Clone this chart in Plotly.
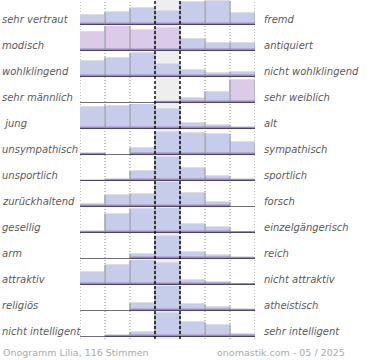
import plotly.graph_objects as go

# ---------------- data ----------------
LEFT_LABELS = ["sehr vertraut", "modisch", "wohlklingend", "sehr männlich", "\u00a0jung",
               "unsympathisch", "unsportlich", "zurückhaltend", "gesellig", "arm",
               "attraktiv", "religiös", "nicht intelligent"]
RIGHT_LABELS = ["fremd", "antiquiert", "nicht wohlklingend", "sehr weiblich", "alt",
                "sympathisch", "sportlich", "forsch", "einzelgängerisch", "reich",
                "nicht attraktiv", "atheistisch", "sehr intelligent"]
SCALE_POINTS = [1, 2, 3, 4, 5, 6, 7]

# relative bar heights per row (0-100, row maximum ~100)
V_VERTRAUT = [40, 51, 67, 56, 93, 96, 49]
V_MODISCH = [77, 100, 84, 93, 49, 33, 33]
V_WOHLKLINGEND = [65, 78, 96, 52, 29, 16, 20]
V_MAENNLICH = [0, 0, 0, 10, 20, 46, 93]
V_JUNG = [90, 94, 100, 81, 26, 17, 10]
V_UNSYMPATHISCH = [9, 0, 29, 93, 88, 84, 51]
V_UNSPORTLICH = [3, 8, 40, 98, 53, 20, 8]
V_ZURUECKHALTEND = [14, 48, 54, 100, 58, 20, 0]
V_GESELLIG = [10, 76, 97, 100, 37, 24, 6]
V_ARM = [0, 0, 20, 93, 28, 17, 8]
V_ATTRAKTIV = [53, 79, 99, 87, 20, 12, 6]
V_RELIGIOES = [0, 0, 31, 100, 27, 18, 10]
V_INTELLIGENT = [0, 7, 20, 96, 59, 50, 11]

ROWS = [V_VERTRAUT, V_MODISCH, V_WOHLKLINGEND, V_MAENNLICH, V_JUNG, V_UNSYMPATHISCH,
        V_UNSPORTLICH, V_ZURUECKHALTEND, V_GESELLIG, V_ARM, V_ATTRAKTIV, V_RELIGIOES,
        V_INTELLIGENT]

TITLE_LEFT = "Onogramm Lilia, 116 Stimmen"
TITLE_RIGHT = "onomastik.com - 05 / 2025"

# ---------------- style ----------------
W, H = 370, 360
ML, MR, MT, MB = 80, 115, 0, 19
PLOT_W = W - ML - MR
PLOT_H = H - MT - MB
ROW_STEP = 26
ROW_H = 25
FIRST_BASE = 25
BLUE = "#c6cdea"
PINK = "#dccbe8"
STRIP1 = "#b5abd9"
STRIP2 = "#9a89c4"
HIGHLIGHT = {(1, 0), (1, 1), (1, 2), (1, 3), (3, 6)}
FONT = "DejaVu Sans"

ncol = len(SCALE_POINTS)
xc = [p - 0.5 for p in SCALE_POINTS]

fig = go.Figure()
layout_axes = {}
annotations = []
shapes = []

for r, vals in enumerate(ROWS):
    yname = "y" if r == 0 else f"y{r+1}"
    ykey = "yaxis" if r == 0 else f"yaxis{r+1}"
    colors = [PINK if (r, c) in HIGHLIGHT else BLUE for c in range(ncol)]
    fig.add_trace(go.Bar(x=xc, y=vals, yaxis=yname, xaxis="x", width=1,
                         marker=dict(color=colors, line=dict(color="#dedee8", width=1)),
                         hoverinfo="skip", showlegend=False))
    fig.add_trace(go.Bar(x=xc, y=[min(v, 11) for v in vals], yaxis=yname, xaxis="x", width=1,
                         marker=dict(color=STRIP1, line=dict(width=0)),
                         hoverinfo="skip", showlegend=False))
    fig.add_trace(go.Bar(x=xc, y=[min(v, 5) for v in vals], yaxis=yname, xaxis="x", width=1,
                         marker=dict(color=STRIP2, line=dict(width=0)),
                         hoverinfo="skip", showlegend=False))
    # vertical bar edges (max of neighbours)
    ex, ey = [], []
    for k in range(1, ncol + 1):
        right = vals[k] if k < ncol else 0
        top = max(vals[k - 1], right)
        if top > 0:
            ex += [k, k, None]
            ey += [0, top, None]
    fig.add_trace(go.Scatter(x=ex, y=ey, yaxis=yname, xaxis="x", mode="lines",
                             line=dict(color="#8e8e98", width=1),
                             hoverinfo="skip", showlegend=False))

    base_px = FIRST_BASE + ROW_STEP * r
    d0 = (PLOT_H - base_px) / PLOT_H
    d1 = min(1.0, (PLOT_H - base_px + ROW_H) / PLOT_H)
    layout_axes[ykey] = dict(domain=[d0, d1], range=[0, 100], visible=False,
                             anchor="x", fixedrange=True)

    shapes.append(dict(type="line", xref="x", yref=yname, x0=0, x1=ncol, y0=0, y1=0,
                       line=dict(color="black", width=1.2), layer="above"))

    annotations.append(dict(text=LEFT_LABELS[r], xref="paper", yref=yname,
                            x=-ML / PLOT_W, y=22, xanchor="left", yanchor="middle",
                            showarrow=False,
                            font=dict(family=FONT, size=10, color="#5a5a5a", style="italic")))
    annotations.append(dict(text=RIGHT_LABELS[r], xref="paper", yref=yname,
                            x=(262 - ML) / PLOT_W, y=22, xanchor="left", yanchor="middle",
                            showarrow=False,
                            font=dict(family=FONT, size=10, color="#5a5a5a", style="italic")))

ybot = (PLOT_H - 339) / PLOT_H
# middle column background
shapes.append(dict(type="rect", xref="x", yref="paper", x0=3, x1=4, y0=ybot, y1=1,
                   fillcolor="#eeeeee", line=dict(width=0), layer="below"))
for xv in [0, 1, 2, 5, 6, 7]:
    shapes.append(dict(type="line", xref="x", yref="paper", x0=xv, x1=xv, y0=ybot, y1=1,
                       line=dict(color="#888", width=1, dash="1px,2px"), layer="below"))
for xv in [3, 4]:
    shapes.append(dict(type="line", xref="x", yref="paper", x0=xv, x1=xv, y0=ybot, y1=1,
                       line=dict(color="black", width=1.4, dash="3px,2px"), layer="above"))

annotations.append(dict(text=TITLE_LEFT, xref="paper", yref="paper",
                        x=(1 - ML) / PLOT_W, y=(PLOT_H - 352) / PLOT_H,
                        xanchor="left", yanchor="middle", showarrow=False,
                        font=dict(family=FONT, size=9.5, color="#aaa")))
annotations.append(dict(text=TITLE_RIGHT, xref="paper", yref="paper",
                        x=(347 - ML) / PLOT_W, y=(PLOT_H - 352) / PLOT_H,
                        xanchor="right", yanchor="middle", showarrow=False,
                        font=dict(family=FONT, size=9.5, color="#aaa")))

fig.update_layout(
    width=W, height=H, autosize=False,
    margin=dict(l=ML, r=MR, t=MT, b=MB, pad=0),
    paper_bgcolor="white", plot_bgcolor="rgba(0,0,0,0)",
    barmode="overlay", bargap=0,
    xaxis=dict(domain=[0, 1], range=[0, ncol], visible=False, fixedrange=True, anchor="y"),
    shapes=shapes, annotations=annotations, showlegend=False,
    **layout_axes,
)

fig.write_html("out.html", config={"displayModeBar": False},
               post_script="document.body.style.margin='0';document.body.style.overflow='hidden';")
